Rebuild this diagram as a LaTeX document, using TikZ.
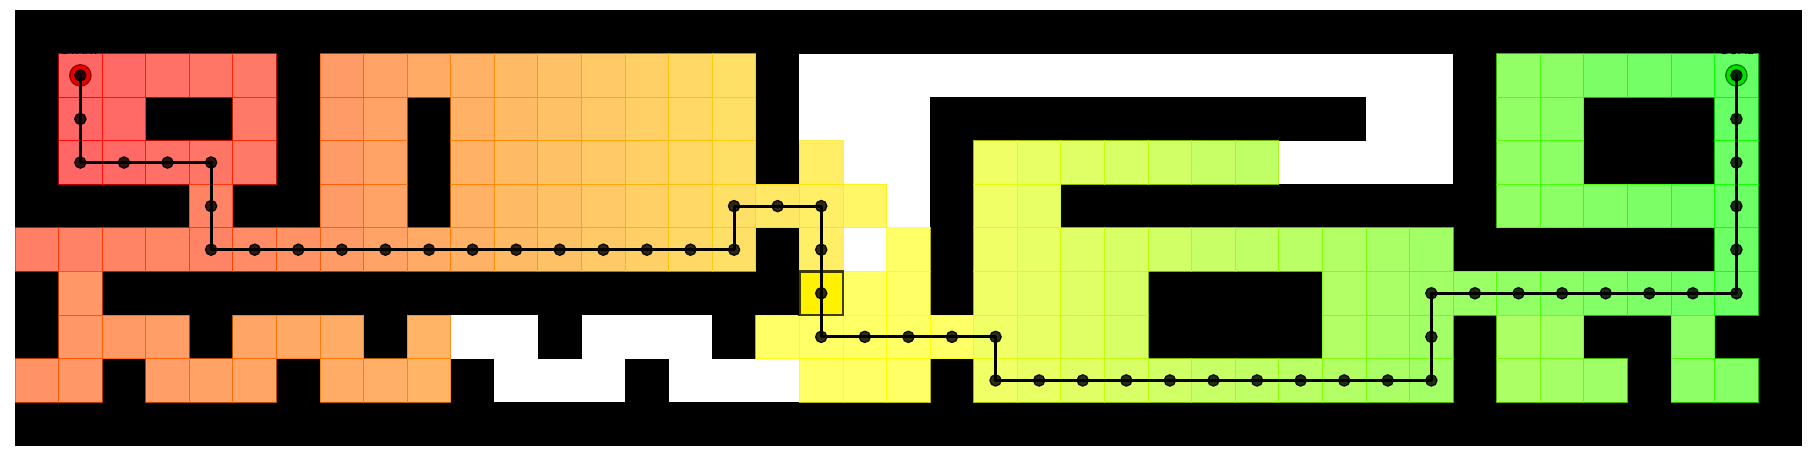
\documentclass[tikz,border=0pt]{standalone}
\usepackage{fontspec}
\setmainfont{DejaVu Sans}
\begin{document}
\begin{tikzpicture}[x=1cm,y=1cm,
  cellstroke/.style={line width=0.6pt},
  pathline/.style={line width=2pt, black, line cap=round, line join=round},
  pathdot/.style={circle, inner sep=0pt, minimum size=0.26cm, fill=black, fill opacity=0.82, draw=black, draw opacity=0.9, line width=0.8pt},
  startmark/.style={circle, inner sep=0pt, minimum size=0.49cm, fill={rgb,255:red,235;green,0;blue,0}, draw={rgb,255:red,140;green,0;blue,0}, line width=0.8pt},
  goalmark/.style={circle, inner sep=0pt, minimum size=0.49cm, fill={rgb,255:red,0;green,225;blue,0}, draw={rgb,255:red,0;green,120;blue,0}, line width=0.8pt},
  hilite/.style={fill=yellow, draw=black, draw opacity=0.75, line width=1.6pt},
  lbl/.style={font=\fontsize{8}{9}\selectfont, text=black, anchor=base, inner sep=0pt}
]
\useasboundingbox (-0.344,0.2295) rectangle (41.189,-10.326);
\fill[black] (0,0) rectangle (41,-10);

\def\colored{1/1/5,1/7/16,1/34/39,
 2/1/2,2/5/5,2/7/8,2/10/16,2/34/35,2/39/39,
 3/1/5,3/7/8,3/10/16,3/18/18,3/22/28,3/34/35,3/39/39,
 4/4/4,4/7/8,4/10/19,4/22/23,4/34/39,
 5/0/16,5/18/18,5/20/20,5/22/32,5/39/39,
 6/1/1,6/18/20,6/22/25,6/30/39,
 7/1/3,7/5/7,7/9/9,7/17/25,7/30/32,7/34/35,7/38/38,
 8/0/1,8/3/5,8/7/9,8/18/20,8/22/32,8/34/36,8/38/39}
\def\whites{1/18/32,2/18/20,2/31/32,3/19/20,3/29/32,4/20/20,5/19/19,
 7/10/11,7/13/15,8/11/13,8/15/17}

% free cells: white ground
\foreach \ri/\a/\b in \whites {
  \foreach \ci in {\a,...,\b} { \fill[white] (\ci,-\ri) rectangle ++(1,-1); }
}
\foreach \ri/\a/\b in \colored {
  \foreach \ci in {\a,...,\b} { \fill[white] (\ci,-\ri) rectangle ++(1,-1); }
}
% coloured (visited) cells
\foreach \ri/\a/\b in \colored {
  \foreach \ci in {\a,...,\b} {
    \pgfmathsetmacro\hraw{(\ri>=6 && \ci>=17 && \ci<=21) ? 60 : ((\ri>=6 && \ci<=9) ? 18+1.4*\ci : ((\ri<=3 && \ci<=5) ? 2*(\ci-1) : ((\ri==5 && \ci<=3) ? 10+\ci : ((\ci>=33 && \ri>=7) ? 3*\ci-10 : ((\ri<=2 && \ci>=36) ? 3*\ci+3 : 3*\ci)))))}
    \pgfmathsetmacro\hh{max(0,min(120,\hraw))}
    \pgfmathsetmacro\rr{\hh<=60 ? 1 : 1-(\hh-60)/60}
    \pgfmathsetmacro\gg{\hh<=60 ? \hh/60 : 1}
    \definecolor{cc}{rgb}{\rr,\gg,0}
    \filldraw[fill=cc, fill opacity=0.6, draw=cc, draw opacity=0.7, cellstroke] (\ci,-\ri) rectangle ++(1,-1);
  }
}

% highlighted cell
\draw[hilite] (18,-6) rectangle (19,-7);

% labels
\node[lbl] (startlbl) at (1.5,-1.03) {START};
\node[lbl] (goallbl) at (39.5,-1.03) {GOAL};

% start / goal markers
\node[startmark] (start) at (1.5,-1.5) {};
\node[goalmark] (goal) at (39.5,-1.5) {};

% path dots
\foreach \ci/\ri [count=\k] in {1/1,1/2,1/3,2/3,3/3,4/3,4/4,4/5,5/5,6/5,7/5,8/5,9/5,10/5,11/5,12/5,13/5,14/5,15/5,16/5,16/4,17/4,18/4,18/5,18/6,18/7,19/7,20/7,21/7,22/7,22/8,23/8,24/8,25/8,26/8,27/8,28/8,29/8,30/8,31/8,32/8,32/7,32/6,33/6,34/6,35/6,36/6,37/6,38/6,39/6,39/5,39/4,39/3,39/2,39/1}
  \node[pathdot] (d\k) at (\ci+0.5,-\ri-0.5) {};

% path line through corner dots
\draw[pathline] (d1.center) -- (d3.center) -- (d6.center) -- (d8.center) -- (d20.center) -- (d21.center) -- (d23.center) -- (d26.center) -- (d30.center) -- (d31.center) -- (d41.center) -- (d43.center) -- (d50.center) -- (d55.center);
\end{tikzpicture}
\end{document}
